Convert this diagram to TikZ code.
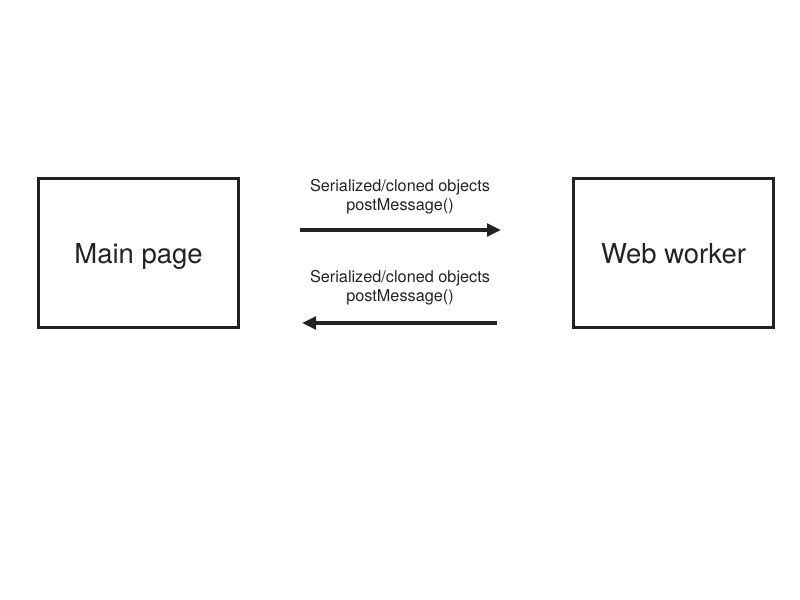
\documentclass[tikz,border=0pt]{standalone}
\usepackage{fontspec}
\setmainfont{TeX Gyre Heros}
\usetikzlibrary{arrows.meta}
\definecolor{ink}{HTML}{222222}
\begin{document}
\begin{tikzpicture}[x=0.75pt,y=-0.75pt,
  box/.style={draw=ink,line width=2.3pt,minimum width=199.5pt*0.75,minimum height=148.5pt*0.75,inner sep=0pt,text=ink,text height=15pt,text depth=0pt,font=\fontsize{20.6}{24}\selectfont},
  msg/.style={align=center,text=ink,font=\fontsize{12.2}{14.4}\selectfont,inner sep=0pt},
  flow/.style={draw=ink,line width=2.3pt,-{Triangle[length=10.5pt,width=9.5pt]}}]
\useasboundingbox (0,0) rectangle (800,600);
\node[box] (main) at (138.5,253) {Main page};
\node[box] (worker) at (673.5,253) {Web worker};
\coordinate (a1s) at (300,230);
\coordinate (a1e) at (501,230);
\coordinate (a2s) at (497,323);
\coordinate (a2e) at (302,323);
\draw[flow] (a1s) -- (a1e);
\draw[flow] (a2s) -- (a2e);
\node[msg] (l1) at (400,197) {Serialized/cloned objects\\postMessage()};
\node[msg] (l2) at (400,288) {Serialized/cloned objects\\postMessage()};
\end{tikzpicture}
\end{document}
